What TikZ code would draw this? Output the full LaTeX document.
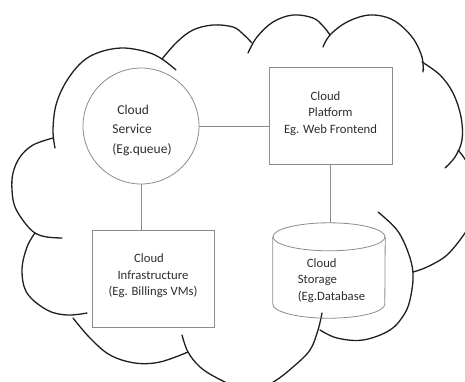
\documentclass[tikz,border=0pt]{standalone}
\usepackage{fontspec}
\setmainfont{Carlito}
\begin{document}
\begin{tikzpicture}[x=1pt,y=1pt,
  cloudline/.style={draw=black!88, line width=1.3pt, line cap=round},
  shapeline/.style={draw=black!45, line width=0.8pt},
  conn/.style={draw=black!45, line width=0.8pt},
  txt/.style={text=black!82, inner sep=0pt},
  bigtxt/.style={txt, font=\fontsize{13.5}{19.5}\selectfont},
  smalltxt/.style={txt, font=\fontsize{12.7}{16.6}\selectfont},
  boxnode/.style={shapeline, rectangle, inner sep=0pt}]
\useasboundingbox (0,0) rectangle (465,-381);
\begin{scope}
\clip (0,0) rectangle (465,-381);
\draw[cloudline] plot[smooth, tension=0.6] coordinates {(55,-148) (53,-130) (56,-105) (66,-82) (82,-62) (100,-52) (123,-48) (147,-52) (162,-59) (176,-70)};
\draw[cloudline] plot[smooth, tension=0.6] coordinates {(162,-59) (177,-42) (193,-30) (213,-25) (233,-27) (243,-34) (252,-43)};
\draw[cloudline] plot[smooth, tension=0.6] coordinates {(248,-53) (257,-37) (273,-22) (293,-15) (313,-18) (323,-26) (330,-35)};
\draw[cloudline] plot[smooth, tension=0.6] coordinates {(323,-47) (330,-35) (347,-22) (370,-15) (393,-20) (412,-37) (422,-57) (423,-72)};
\draw[cloudline] plot[smooth, tension=0.6] coordinates {(422,-62) (440,-75) (453,-93) (461,-117) (462,-140) (455,-157) (445,-168)};
\draw[cloudline] plot[smooth, tension=0.6] coordinates {(458,-150) (468,-165) (476,-195) (473,-218) (465,-233) (447,-255) (427,-267) (413,-272)};
\draw[cloudline] plot[smooth, tension=0.6] coordinates {(378,-212) (397,-230) (408,-252) (413,-273) (411,-295) (405,-313) (390,-330) (363,-340) (337,-338) (320,-330)};
\draw[cloudline] plot[smooth, tension=0.6] coordinates {(182,-335) (188,-352) (200,-367) (217,-378) (240,-388) (258,-389) (275,-381) (293,-367) (310,-350) (318,-330) (322,-313)};
\draw[cloudline] plot[smooth, tension=0.6] coordinates {(73,-318) (90,-338) (110,-355) (135,-363) (160,-362) (188,-352)};
\draw[cloudline] plot[smooth, tension=0.6] coordinates {(35,-233) (27,-247) (22,-270) (27,-293) (47,-310) (67,-315) (87,-313)};
\draw[cloudline] plot[smooth, tension=0.6] coordinates {(53,-138) (33,-145) (20,-157) (13,-173) (12,-190) (15,-207) (25,-223) (35,-233) (47,-237) (62,-238)};
\end{scope}

% shapes
\node[shapeline, circle, minimum size=116pt, inner sep=0pt] (service) at (141,-126) {};
\node[boxnode, minimum width=123pt, minimum height=97pt] (platform) at (330.5,-115.5) {};
\node[boxnode, minimum width=122pt, minimum height=97pt] (infra) at (153,-278.5) {};
\node[minimum width=112pt, minimum height=95pt, inner sep=0pt] (storage) at (329,-270.5) {};
\draw[shapeline] ([yshift=-14pt]storage.north west) -- ([yshift=14pt]storage.south west)
  arc[start angle=180, end angle=360, x radius=56pt, y radius=14pt]
  -- ([yshift=-14pt]storage.north east);
\draw[shapeline] ([yshift=-14pt]storage.north) ellipse[x radius=56pt, y radius=14pt];

% texts
\node[bigtxt, align=left] (servicetext) at ([xshift=1pt, yshift=-4pt]service.center) {\hspace*{5pt}Cloud\\Service\\(Eg.queue)};
\node[smalltxt, align=center] (platformtext) at ([yshift=2pt]platform.center) {\hspace*{-10pt}Cloud\\Platform\\Eg. Web Frontend};
\node[smalltxt, align=center] (infratext) at ([yshift=2.5pt]infra.center) {\hspace*{-8pt}Cloud\\Infrastructure\\(Eg. Billings VMs)};
\node[smalltxt, align=left] (storagetext) at ([xshift=2.5pt, yshift=-10pt]storage.center) {\hspace*{9pt}Cloud\\Storage\\(Eg.Database};

% connectors
\draw[conn] (service.east) -- (service.east -| platform.west);
\draw[conn] (service.south) -- (service.south |- infra.north);
\draw[conn] (platform.south) -- (platform.south |- storage.north);
\end{tikzpicture}
\end{document}
